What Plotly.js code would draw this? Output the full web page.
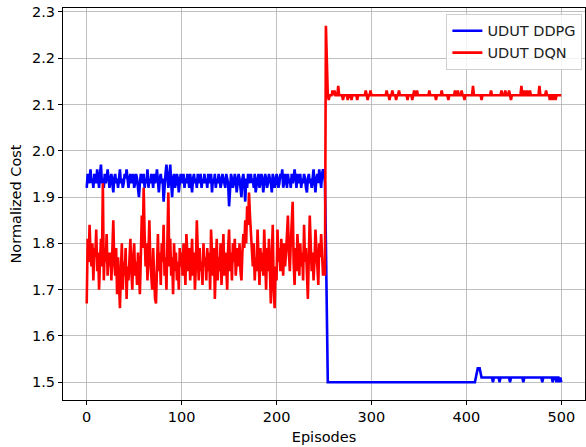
<!DOCTYPE html>
<html>
<head>
<meta charset="utf-8">
<script src="https://cdn.plot.ly/plotly-3.0.1.min.js"></script>
<style>html,body{margin:0;padding:0;background:#fff;}#chart{width:586px;height:447px;}</style>
</head>
<body>
<div id="chart"></div>
<script>
// Series labels
const seriesNames = ["UDUT DDPG", "UDUT DQN"];
const xTicks = [0, 100, 200, 300, 400, 500];
const yTicks = [1.5, 1.6, 1.7, 1.8, 1.9, 2.0, 2.1, 2.2, 2.3];

// UDUT DDPG, episodes 0..500
const ddpg = [
1.92,1.95,1.93,1.94,1.96,1.93,1.94,1.92,1.95,1.94,1.93,1.96,1.94,1.92,1.95,1.97,1.93,1.94,1.92,1.95,1.93,1.94,1.96,1.93,1.92,
1.94,1.95,1.93,1.91,1.94,1.95,1.93,1.94,1.92,1.95,1.96,1.93,1.94,1.92,1.93,1.95,1.94,1.96,1.93,1.92,1.94,1.95,1.93,1.94,1.95,
1.92,1.93,1.95,1.94,1.92,1.90,1.93,1.95,1.94,1.93,1.95,1.92,1.94,1.93,1.96,1.92,1.94,1.93,1.95,1.94,1.92,1.95,1.93,1.94,1.96,
1.93,1.91,1.94,1.95,1.93,1.94,1.89,1.93,1.95,1.97,1.93,1.92,1.94,1.97,1.93,1.90,1.94,1.95,1.92,1.93,1.95,1.94,1.91,1.93,1.95,
1.94,1.93,1.95,1.92,1.94,1.93,1.95,1.94,1.92,1.95,1.93,1.91,1.94,1.95,1.93,1.94,1.92,1.95,1.93,1.94,1.95,1.92,1.94,1.93,1.95,
1.93,1.94,1.92,1.95,1.93,1.94,1.95,1.91,1.94,1.93,1.95,1.92,1.94,1.93,1.95,1.94,1.92,1.93,1.95,1.94,1.93,1.92,1.95,1.94,1.93,
1.88,1.93,1.95,1.94,1.92,1.93,1.95,1.94,1.91,1.93,1.95,1.94,1.92,1.90,1.94,1.95,1.93,1.89,1.94,1.92,1.95,1.93,1.94,1.95,1.93,
1.94,1.92,1.95,1.91,1.93,1.94,1.95,1.92,1.93,1.95,1.94,1.91,1.93,1.95,1.94,1.92,1.93,1.95,1.94,1.93,1.91,1.95,1.94,1.92,1.93,
1.95,1.94,1.92,1.93,1.95,1.94,1.96,1.92,1.93,1.95,1.94,1.92,1.95,1.93,1.94,1.92,1.95,1.93,1.94,1.96,1.93,1.92,1.95,1.94,1.93,
1.95,1.92,1.94,1.93,1.95,1.94,1.92,1.91,1.94,1.95,1.93,1.94,1.92,1.95,1.96,1.93,1.91,1.94,1.95,1.93,1.96,1.94,1.92,1.95,1.96,
1.95,1.93,1.80,1.62,
1.50,1.50,1.50,1.50,1.50,1.50,1.50,1.50,1.50,1.50,
1.50,1.50,1.50,1.50,1.50,1.50,1.50,1.50,1.50,1.50,
1.50,1.50,1.50,1.50,1.50,1.50,1.50,1.50,1.50,1.50,
1.50,1.50,1.50,1.50,1.50,1.50,1.50,1.50,1.50,1.50,
1.50,1.50,1.50,1.50,1.50,1.50,1.50,1.50,1.50,1.50,
1.50,1.50,1.50,1.50,1.50,1.50,1.50,1.50,1.50,1.50,
1.50,1.50,1.50,1.50,1.50,1.50,1.50,1.50,1.50,1.50,
1.50,1.50,1.50,1.50,1.50,1.50,1.50,1.50,1.50,1.50,
1.50,1.50,1.50,1.50,1.50,1.50,1.50,1.50,1.50,1.50,
1.50,1.50,1.50,1.50,1.50,1.50,1.50,1.50,1.50,1.50,
1.50,1.50,1.50,1.50,1.50,1.50,1.50,1.50,1.50,1.50,
1.50,1.50,1.50,1.50,1.50,1.50,1.50,1.50,1.50,1.50,
1.50,1.50,1.50,1.50,1.50,1.50,1.50,1.50,1.50,1.50,
1.50,1.50,1.50,1.50,1.50,1.50,1.50,1.50,1.50,1.50,
1.50,1.50,1.50,1.50,1.50,1.50,1.50,1.50,1.50,1.50,
1.50,1.50,1.50,1.50,1.50,1.50,
1.51,1.52,1.53,1.53,1.53,1.52,1.51,
1.51,1.51,1.51,1.51,1.51,1.51,1.51,1.51,1.51,1.51,
1.51,1.50,1.51,1.51,1.51,1.51,1.51,1.51,1.50,1.51,
1.51,1.51,1.51,1.51,1.51,1.51,1.51,1.51,1.51,1.50,
1.51,1.51,1.51,1.51,1.51,1.51,1.51,1.51,1.51,1.51,
1.51,1.51,1.51,1.50,1.51,1.51,1.51,1.51,1.51,1.51,
1.51,1.51,1.51,1.51,1.51,1.51,1.51,1.51,1.51,1.51,
1.51,1.51,1.51,1.50,1.51,1.51,1.51,1.51,1.51,1.51,
1.51,1.51,1.51,1.51,1.50,1.51,1.51,1.51,1.50,1.51,
1.51,1.50,1.51,1.50
];

// UDUT DQN, episodes 0..500
const dqn = [
1.67,1.81,1.76,1.84,1.78,1.75,1.80,1.72,1.79,1.77,1.83,1.74,1.78,1.70,1.76,1.81,1.75,1.93,1.72,1.79,1.76,1.82,1.73,1.78,1.75,
1.78,1.72,1.80,1.85,1.76,1.73,1.79,1.69,1.77,1.71,1.66,1.74,1.80,1.70,1.76,1.73,1.79,1.68,1.75,1.72,1.78,1.81,1.74,1.70,1.77,
1.80,1.73,1.76,1.71,1.78,1.74,1.69,1.77,1.86,1.79,1.92,1.82,1.75,1.80,1.72,1.78,1.85,1.76,1.73,1.70,1.79,1.74,1.68,1.67,1.76,
1.82,1.74,1.78,1.71,1.80,1.76,1.84,1.73,1.77,1.70,1.79,1.91,1.75,1.81,1.73,1.77,1.69,1.80,1.74,1.78,1.72,1.76,1.70,1.79,1.75,
1.78,1.73,1.80,1.76,1.71,1.82,1.77,1.74,1.79,1.72,1.76,1.81,1.73,1.78,1.70,1.75,1.85,1.77,1.72,1.79,1.74,1.76,1.71,1.80,1.75,
1.77,1.72,1.79,1.74,1.78,1.70,1.83,1.76,1.73,1.79,1.68,1.75,1.81,1.72,1.77,1.74,1.80,1.71,1.76,1.82,1.73,1.78,1.75,1.70,1.79,
1.83,1.74,1.78,1.72,1.80,1.76,1.81,1.73,1.77,1.79,1.75,1.80,1.74,1.72,1.78,1.82,1.79,1.85,1.80,1.88,1.84,1.91,1.86,1.82,1.78,
1.75,1.80,1.72,1.77,1.74,1.83,1.76,1.71,1.79,1.74,1.78,1.73,1.83,1.76,1.70,1.79,1.74,1.81,1.72,1.67,1.77,1.84,1.70,1.66,1.75,
1.72,1.83,1.76,1.79,1.74,1.81,1.77,1.73,1.80,1.75,1.78,1.82,1.86,1.78,1.74,1.80,1.84,1.89,1.76,1.71,1.79,1.74,1.82,1.77,1.73,
1.80,1.75,1.78,1.72,1.84,1.76,1.79,1.70,1.68,1.77,1.86,1.80,1.74,1.78,1.72,1.76,1.83,1.79,1.75,1.71,1.80,1.77,1.82,1.76,1.73,
1.75,1.73,2.27,
2.20,2.12,2.11,2.12,2.12,2.12,2.13,2.12,2.13,2.12,
2.12,2.12,2.14,2.12,2.12,2.12,2.12,2.11,2.12,2.12,
2.12,2.12,2.11,2.12,2.12,2.12,2.11,2.12,2.12,2.12,
2.12,2.12,2.11,2.12,2.12,2.12,2.12,2.12,2.12,2.12,
2.12,2.13,2.12,2.11,2.12,2.12,2.13,2.12,2.12,2.12,
2.12,2.12,2.12,2.12,2.12,2.12,2.12,2.12,2.12,2.12,
2.12,2.12,2.12,2.13,2.12,2.12,2.11,2.12,2.12,2.13,
2.12,2.12,2.12,2.11,2.12,2.12,2.13,2.12,2.12,2.12,
2.12,2.12,2.12,2.12,2.12,2.11,2.12,2.12,2.12,2.12,
2.11,2.12,2.13,2.12,2.12,2.13,2.12,2.12,2.12,2.12,
2.12,2.12,2.12,2.12,2.12,2.12,2.12,2.12,2.13,2.12,
2.12,2.12,2.12,2.12,2.12,2.11,2.12,2.12,2.12,2.12,
2.12,2.13,2.12,2.12,2.12,2.12,2.12,2.12,2.11,2.12,
2.12,2.12,2.12,2.12,2.12,2.13,2.12,2.12,2.13,2.12,
2.12,2.12,2.13,2.12,2.12,2.11,2.12,2.12,2.12,2.12,
2.12,2.12,2.12,2.12,2.14,2.12,2.12,2.12,2.12,2.12,
2.12,2.12,2.12,2.11,2.12,2.12,2.12,2.12,2.12,2.12,
2.12,2.12,2.12,2.13,2.12,2.12,2.12,2.12,2.12,2.12,
2.12,2.12,2.12,2.12,2.13,2.12,2.12,2.12,2.13,2.12,
2.12,2.12,2.13,2.12,2.11,2.12,2.12,2.12,2.12,2.12,
2.12,2.12,2.12,2.12,2.12,2.14,2.12,2.12,2.13,2.12,
2.12,2.13,2.12,2.12,2.13,2.12,2.12,2.12,2.12,2.12,
2.12,2.12,2.12,2.12,2.14,2.12,2.12,2.12,2.12,2.12,
2.12,2.13,2.12,2.12,2.12,2.11,2.12,2.12,2.11,2.12,
2.12,2.11,2.12,2.12,2.12,2.12,2.12,2.12
];

const episodes = n => Array.from({length: n}, (_, i) => i);

const font = {family: "DejaVu Sans", size: 14.5, color: "#000"};

const traces = [
  {x: episodes(ddpg.length), y: ddpg, name: seriesNames[0], type: "scatter", mode: "lines",
   line: {color: "#0000ff", width: 2.6}},
  {x: episodes(dqn.length), y: dqn, name: seriesNames[1], type: "scatter", mode: "lines",
   line: {color: "#ff0000", width: 2.6}}
];

const axisCommon = {
  showline: true, mirror: true, linecolor: "#000", linewidth: 1,
  ticks: "outside", ticklen: 4, tickwidth: 1, tickcolor: "#000",
  showgrid: true, gridcolor: "#b0b0b0", gridwidth: 0.8,
  zeroline: false, tickfont: font
};

const layout = {
  width: 586, height: 447,
  margin: {l: 63, r: 1, t: 8, b: 47},
  paper_bgcolor: "#fff", plot_bgcolor: "#fff",
  font: font,
  showlegend: true,
  legend: {x: 0.995, xanchor: "right", y: 0.985, yanchor: "top",
           bgcolor: "rgba(255,255,255,0.8)", bordercolor: "#d0d0d0", borderwidth: 1,
           font: {family: "DejaVu Sans", size: 14.5, color: "#222"}},
  xaxis: Object.assign({}, axisCommon, {
    range: [-25, 525], tickmode: "array", tickvals: xTicks,
    title: {text: "Episodes", font: {family: "DejaVu Sans", size: 14.5, color: "#000"}, standoff: 7}
  }),
  yaxis: Object.assign({}, axisCommon, {
    range: [1.4615, 2.3085], tickmode: "array", tickvals: yTicks,
    ticktext: yTicks.map(v => v.toFixed(1)),
    title: {text: "Normalized Cost", font: {family: "DejaVu Sans", size: 14.5, color: "#000"}, standoff: 6}
  })
};

Plotly.newPlot("chart", traces, layout, {staticPlot: true, displayModeBar: false});
</script>
</body>
</html>
